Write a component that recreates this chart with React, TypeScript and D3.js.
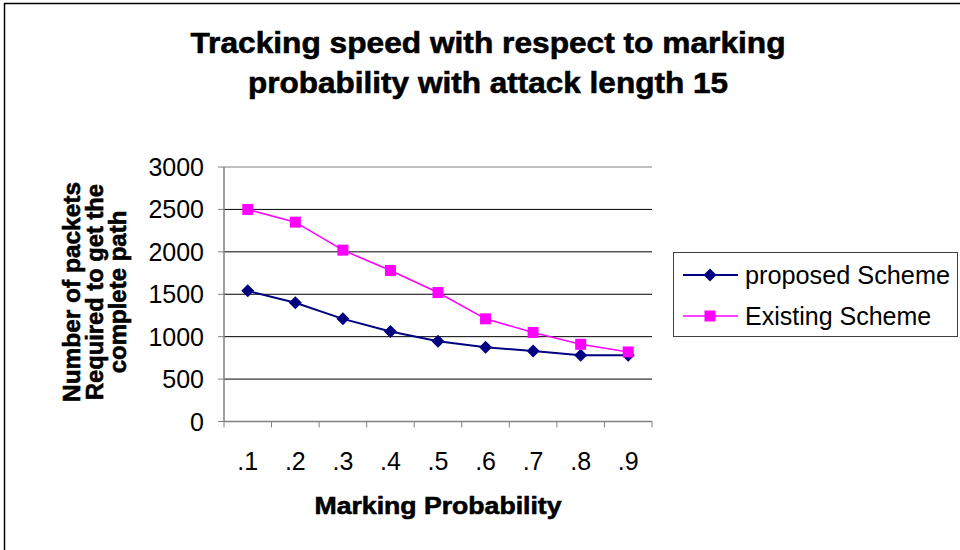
import React from "react";
import * as d3 from "d3";

// Marking probability categories and packets needed per scheme
const categories = [".1", ".2", ".3", ".4", ".5", ".6", ".7", ".8", ".9"];
const proposedScheme = [1540, 1400, 1210, 1060, 945, 875, 830, 780, 780];
const existingScheme = [2500, 2350, 2020, 1780, 1520, 1210, 1050, 910, 820];
const yTicks = [0, 500, 1000, 1500, 2000, 2500, 3000];
const seriesNames = ["proposed Scheme", "Existing Scheme"];

const W = 960;
const H = 550;
const plot = { left: 224, right: 652, top: 167, bottom: 421.5 };
const FONT = "Arial, 'Liberation Sans', Helvetica, sans-serif";

export default function App() {
  const x = d3
    .scaleBand<string>()
    .domain(categories)
    .range([plot.left, plot.right])
    .paddingInner(0)
    .paddingOuter(0);
  const y = d3.scaleLinear().domain([0, 3000]).range([plot.bottom, plot.top]);
  const cx = (c: string) => (x(c) ?? 0) + x.bandwidth() / 2;

  const line = d3
    .line<number>()
    .x((_, i) => cx(categories[i]))
    .y((d) => y(d));

  const diamond = (px: number, py: number, r: number) =>
    `M${px},${py - r}L${px + r},${py}L${px},${py + r}L${px - r},${py}Z`;

  const boundaries = [...categories.map((c) => x(c) ?? 0), plot.right];
  const heavy = { stroke: "#000", strokeWidth: 0.6 };

  return (
    <svg
      width={W}
      height={H}
      style={{ position: "absolute", left: 0, top: 0, background: "#fff" }}
      fontFamily={FONT}
    >
      {/* chart frame */}
      <rect x={4.5} y={3.5} width={1000} height={1000} fill="none" stroke="#000" strokeWidth={1.5} />

      {/* title */}
      <g fontSize={30} fontWeight="bold" textAnchor="middle" {...heavy}>
        <text x={488} y={53} textLength={595} lengthAdjust="spacingAndGlyphs">
          Tracking speed with respect to marking
        </text>
        <text x={488} y={93} textLength={480} lengthAdjust="spacingAndGlyphs">
          probability with attack length 15
        </text>
      </g>

      {/* gridlines */}
      {yTicks
        .filter((t) => t > 0)
        .map((t) => (
          <line
            key={t}
            x1={plot.left}
            x2={plot.right}
            y1={y(t)}
            y2={y(t)}
            stroke={t === 3000 ? "#808080" : "#000"}
            strokeWidth={1}
          />
        ))}

      {/* y axis */}
      <line x1={plot.left} x2={plot.left} y1={plot.top} y2={plot.bottom} stroke="#808080" strokeWidth={1.5} />
      {yTicks.map((t) => (
        <g key={t}>
          <line x1={plot.left - 6} x2={plot.left} y1={y(t)} y2={y(t)} stroke="#808080" strokeWidth={1} />
          <text x={204} y={y(t)} dy="0.36em" textAnchor="end" fontSize={25}>
            {t}
          </text>
        </g>
      ))}

      {/* x axis */}
      <line x1={plot.left} x2={plot.right} y1={plot.bottom} y2={plot.bottom} stroke="#808080" strokeWidth={1.5} />
      {boundaries.map((b, i) => (
        <line key={i} x1={b} x2={b} y1={plot.bottom} y2={plot.bottom + 6} stroke="#808080" strokeWidth={1} />
      ))}
      {categories.map((c) => (
        <text key={c} x={cx(c)} y={470} textAnchor="middle" fontSize={25}>
          {c}
        </text>
      ))}

      {/* axis titles */}
      <text x={438} y={514} textAnchor="middle" fontSize={24} fontWeight="bold" textLength={247} lengthAdjust="spacingAndGlyphs" {...heavy}>
        Marking Probability
      </text>
      <g transform="translate(0,292) rotate(-90)" fontSize={24} fontWeight="bold" textAnchor="middle" {...heavy}>
        <text x={0} y={80} textLength={220} lengthAdjust="spacingAndGlyphs">Number of packets</text>
        <text x={0} y={103} textLength={216} lengthAdjust="spacingAndGlyphs">Required to get the</text>
        <text x={0} y={126}>complete path</text>
      </g>

      {/* series */}
      <path d={line(existingScheme) ?? ""} fill="none" stroke="#FF00FF" strokeWidth={1.6} />
      <path d={line(proposedScheme) ?? ""} fill="none" stroke="#000080" strokeWidth={2} />
      {proposedScheme.map((v, i) => (
        <path key={i} d={diamond(cx(categories[i]), y(v), 6.5)} fill="#000080" />
      ))}
      {existingScheme.map((v, i) => (
        <rect key={i} x={cx(categories[i]) - 5.5} y={y(v) - 5.5} width={11} height={11} fill="#FF00FF" />
      ))}

      {/* legend */}
      <rect x={673.5} y={252.5} width={284} height={84} fill="#fff" stroke="#404040" strokeWidth={1} />
      <line x1={683} x2={738} y1={275} y2={275} stroke="#000080" strokeWidth={2} />
      <path d={diamond(710, 275, 6.5)} fill="#000080" />
      <text x={745} y={275} dy="0.36em" fontSize={25} textLength={205} lengthAdjust="spacingAndGlyphs">
        {seriesNames[0]}
      </text>
      <line x1={683} x2={738} y1={316} y2={316} stroke="#FF00FF" strokeWidth={1.6} />
      <rect x={704.5} y={310.5} width={11} height={11} fill="#FF00FF" />
      <text x={745} y={316} dy="0.36em" fontSize={25}>
        {seriesNames[1]}
      </text>
    </svg>
  );
}
